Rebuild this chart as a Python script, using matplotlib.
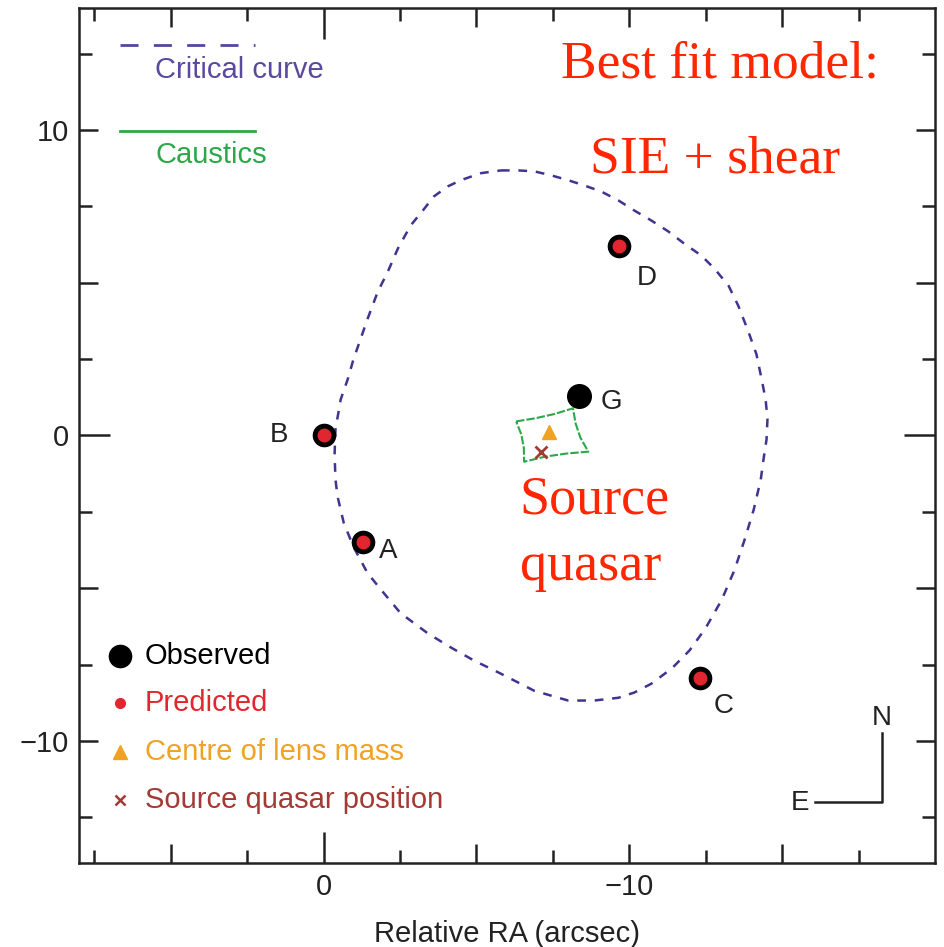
import numpy as np
import matplotlib.pyplot as plt
from matplotlib.ticker import FixedLocator

plt.rcParams['font.family'] = ['Liberation Sans', 'DejaVu Sans']

# quasar images (arcsec), observed and model-predicted
image_names = ['A', 'B', 'C', 'D']
obs_x = [-1.3, 0.0, -12.3, -9.65]
obs_y = [-3.5, 0.0, -7.95, 6.2]
pred_x = [-1.3, 0.0, -12.3, -9.65]
pred_y = [-3.5, 0.0, -7.95, 6.2]

# lens galaxy, centre of mass, source
galaxy_x, galaxy_y = -8.36, 1.28
lens_x, lens_y = -7.38, 0.12
src_x, src_y = -7.12, -0.55

# critical curve (traced)
crit_x = [-5.80, -6.36, -6.89, -7.44, -8.00, -8.52, -9.08, -9.64, -10.16, -10.72,
          -11.28, -11.80, -12.36, -12.79, -13.25, -13.57, -13.90, -14.16, -14.33, -14.46,
          -14.52, -14.49, -14.39, -14.30, -14.07, -13.77, -13.44, -13.02, -12.49, -11.97,
          -11.40, -10.72, -10.16, -9.64, -8.85, -8.00, -6.89, -5.80, -4.92, -4.16,
          -3.41, -2.52, -1.97, -1.44, -0.98, -0.66, -0.46, -0.39, -0.36, -0.39,
          -0.56, -0.79, -0.98, -1.21, -1.44, -1.77, -2.10, -2.43, -2.85, -3.25,
          -3.61, -4.07, -4.49, -5.15]
crit_y = [8.68, 8.68, 8.65, 8.52, 8.36, 8.19, 7.99, 7.70, 7.37, 7.04,
          6.68, 6.28, 5.89, 5.46, 4.90, 4.24, 3.39, 2.66, 1.84, 1.18,
          0.53, -0.13, -0.79, -1.45, -2.43, -3.42, -4.41, -5.39, -6.32, -7.04,
          -7.62, -8.13, -8.42, -8.59, -8.68, -8.68, -8.36, -7.80, -7.37, -6.94,
          -6.48, -5.82, -5.16, -4.51, -3.65, -2.86, -2.01, -1.45, -0.63, 0.20,
          1.18, 1.84, 2.50, 3.16, 3.82, 4.70, 5.36, 6.12, 6.88, 7.37,
          7.83, 8.16, 8.36, 8.59]

# caustic
caus_x = [-6.30, -6.91, -7.54, -8.16, -8.24, -8.40, -8.66, -7.96, -7.26, -6.56, -6.55, -6.47]
caus_y = [0.46, 0.56, 0.70, 0.89, 0.41, -0.07, -0.53, -0.59, -0.69, -0.86, -0.40, 0.03]

label_offsets = {'A': (18, -6), 'B': (-32, 0), 'C': (17, -20), 'D': (20, -23)}

crit_color = '#3e3590'
green = '#2aa84a'
red = '#e2262f'
orange = '#f0a224'
darkred = '#a33a34'

fig = plt.figure(figsize=(9.45, 9.47), dpi=100)
ax = fig.add_axes([0.0836, 0.0887, 0.9058, 0.9029])

ax.plot(crit_x + crit_x[:1], crit_y + crit_y[:1], color=crit_color, lw=1.8, dashes=(3.5, 3.5))
ax.plot(caus_x + caus_x[:1], caus_y + caus_y[:1], color=green, lw=1.5, dashes=(4, 1))

ax.plot(obs_x, obs_y, 'o', ms=16, color='black', zorder=4)
ax.plot(pred_x, pred_y, 'o', ms=9, color=red, zorder=5)
ax.plot([galaxy_x], [galaxy_y], 'o', ms=17, color='black', zorder=4)
ax.plot([lens_x], [lens_y], '^', ms=10, color=orange, zorder=4)
ax.plot([src_x], [src_y], 'x', ms=8, mew=2, color=darkred, zorder=4)

for name, x, y in zip(image_names, obs_x, obs_y):
    ax.annotate(name, (x, y), xytext=label_offsets[name], textcoords='offset points',
                ha='center', va='center', fontsize=20, color='#222222')
ax.annotate('G', (galaxy_x, galaxy_y), xytext=(23, -4), textcoords='offset points',
            ha='center', va='center', fontsize=20, color='#222222')

# top-left key
ax.plot([0.048, 0.206], [0.957, 0.957], transform=ax.transAxes, color='#5546a0', lw=2, dashes=(6.5, 5.5))
ax.text(0.089, 0.927, 'Critical curve', transform=ax.transAxes, color='#5a4a9e', fontsize=21, va='center')
ax.plot([0.048, 0.206], [0.856, 0.856], transform=ax.transAxes, color=green, lw=2)
ax.text(0.089, 0.828, 'Caustics', transform=ax.transAxes, color=green, fontsize=21, va='center')

# bottom-left key
ax.plot([0.048], [0.242], 'o', ms=16, color='black', transform=ax.transAxes)
ax.text(0.077, 0.242, 'Observed', transform=ax.transAxes, color='black', fontsize=21, va='center')
ax.plot([0.048], [0.187], 'o', ms=7, color=red, transform=ax.transAxes)
ax.text(0.077, 0.187, 'Predicted', transform=ax.transAxes, color=red, fontsize=21, va='center')
ax.plot([0.048], [0.130], '^', ms=10, color=orange, transform=ax.transAxes)
ax.text(0.077, 0.130, 'Centre of lens mass', transform=ax.transAxes, color=orange, fontsize=21, va='center')
ax.plot([0.048], [0.074], 'x', ms=7, mew=1.8, color=darkred, transform=ax.transAxes)
ax.text(0.077, 0.074, 'Source quasar position', transform=ax.transAxes, color=darkred, fontsize=21, va='center')

# compass
ax.plot([0.860, 0.938, 0.938], [0.071, 0.071, 0.152], transform=ax.transAxes, color='#222222', lw=1.8)
ax.text(0.938, 0.170, 'N', transform=ax.transAxes, fontsize=20, ha='center', va='center', color='#222222')
ax.text(0.842, 0.070, 'E', transform=ax.transAxes, fontsize=20, ha='center', va='center', color='#222222')

# red annotations
serif = ['Liberation Serif', 'DejaVu Serif']
ax.text(0.749, 0.919, 'Best fit model:', transform=ax.transAxes, family=serif, fontsize=38.5,
        color='#ff2600', ha='center', va='baseline')
ax.text(0.743, 0.807, 'SIE + shear', transform=ax.transAxes, family=serif, fontsize=38.5,
        color='#ff2600', ha='center', va='baseline')
ax.text(0.515, 0.409, 'Source', transform=ax.transAxes, family=serif, fontsize=39,
        color='#ff2600', ha='left', va='baseline')
ax.text(0.515, 0.331, 'quasar', transform=ax.transAxes, family=serif, fontsize=39,
        color='#ff2600', ha='left', va='baseline')

ax.set_xlim(8, -20)
ax.set_ylim(-14, 14)
ax.set_xticks([5, 0, -5, -10, -15], ['', '0', '', '\u221210', ''])
ax.set_yticks([10, 5, 0, -5, -10], ['10', '', '0', '', '\u221210'])
ax.xaxis.set_minor_locator(FixedLocator([7.5, 2.5, -2.5, -7.5, -12.5, -17.5]))
ax.yaxis.set_minor_locator(FixedLocator([12.5, 7.5, 2.5, -2.5, -7.5, -12.5]))
ax.tick_params(which='both', direction='in', top=True, right=True, width=1.8,
               color='#222222', labelsize=21, pad=7, labelcolor='#222222')
ax.tick_params(which='major', length=14)
ax.tick_params(which='minor', length=9.5)
for s in ax.spines.values():
    s.set_linewidth(1.8)
    s.set_color('#222222')

ax.set_xlabel('Relative RA (arcsec)', fontsize=21, labelpad=14, color='#222222')

# long ticks at the origin
for t in ax.xaxis.get_major_ticks() + ax.yaxis.get_major_ticks():
    if t.get_loc() == 0:
        t.tick1line.set_markersize(22)
        t.tick2line.set_markersize(22)

fig.savefig('out.png', dpi=100)
